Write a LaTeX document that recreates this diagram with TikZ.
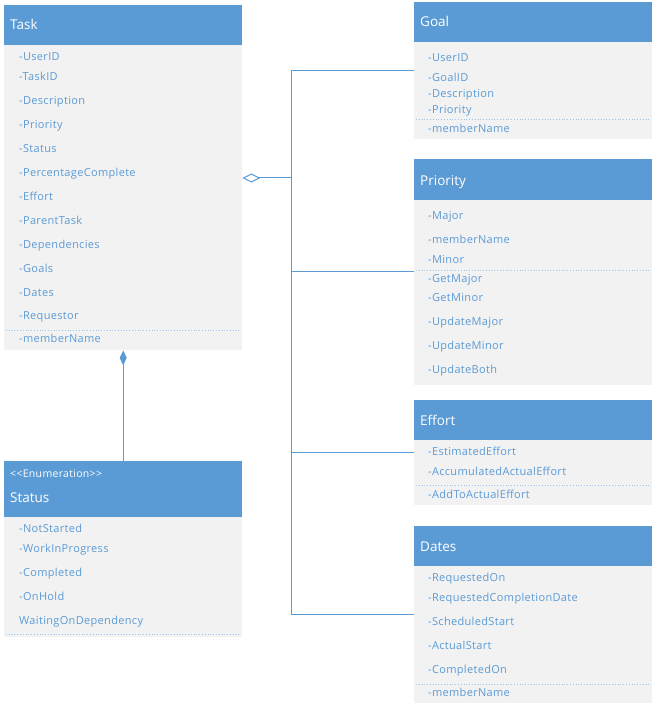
\documentclass[tikz,border=0pt]{standalone}
\usepackage{fontspec}
\setmainfont{Open Sans}
\newfontfamily\memberfont[LetterSpace=3]{Open Sans}
\usetikzlibrary{arrows.meta}
\definecolor{umlblue}{HTML}{5B9BD5}
\definecolor{umlbody}{HTML}{F2F2F2}
\definecolor{umlsep}{HTML}{9DC3E6}

\tikzset{
  head/.style={fill=umlblue, draw=none, anchor=north west, minimum width=238pt, inner sep=0pt},
  body/.style={fill=umlbody, draw=none, anchor=north west, minimum width=238pt, inner sep=0pt},
  title/.style={anchor=west, text=white, font=\fontsize{13.5}{16}\selectfont, inner sep=0pt,
                text height=10pt, text depth=3pt, yshift=-1.5pt},
  stereo/.style={anchor=west, text=white, font=\memberfont\fontsize{10.5}{12}\selectfont, inner sep=0pt,
                text height=7.5pt, text depth=2.5pt, yshift=-1pt},
  attr/.style={anchor=west, text=umlblue, font=\memberfont\fontsize{11}{13}\selectfont, inner sep=0pt,
               text height=8pt, text depth=2.5pt, yshift=-1pt},
  sep/.style={draw=umlsep, dotted, line width=0.8pt},
  conn/.style={draw=umlblue, line width=1pt},
}

\begin{document}
\begin{tikzpicture}[x=1pt, y=-1pt]
\useasboundingbox (0,0) rectangle (654,708);

% ---------- Task ----------
\node[head, minimum height=40pt] (taskH) at (4,5) {};
\node[body, minimum height=305pt] (taskB) at (4,45) {};
\node[title] (taskT) at (10,25) {Task};
\foreach \y/\t [count=\i] in {57/-UserID, 77/-TaskID, 101/-Description, 125/-Priority,
    149/-Status, 173/-PercentageComplete, 197/-Effort, 221/-ParentTask,
    245/-Dependencies, 269/-Goals, 293/-Dates, 316/-Requestor, 339/-memberName}
  \node[attr, name=taskA\i] at (19,\y) {\t};
\draw[sep] (6,330) -- (240,330);

% ---------- Status ----------
\node[head, minimum height=56pt] (statusH) at (4,461) {};
\node[body, minimum height=120pt] (statusB) at (4,517) {};
\node[stereo] (statusS) at (10,474) {<{}<Enumeration>{}>};
\node[title] (statusT) at (10,497) {Status};
\foreach \y/\t [count=\i] in {529/-NotStarted, 549/-WorkInProgress, 573/-Completed,
    597/-OnHold, 621/WaitingOnDependency}
  \node[attr, name=statusA\i] at (19,\y) {\t};
\draw[sep] (6,634) -- (240,634);

% ---------- Goal ----------
\node[head, minimum height=40pt] (goalH) at (414,2) {};
\node[body, minimum height=97pt] (goalB) at (414,42) {};
\node[title] (goalT) at (420,22) {Goal};
\foreach \y/\t [count=\i] in {58/-UserID, 78/-GoalID, 94/-Description, 110/-Priority,
    129/-memberName}
  \node[attr, name=goalA\i] at (428,\y) {\t};
\draw[sep] (416,119) -- (650,119);

% ---------- Priority ----------
\node[head, minimum height=41pt] (priH) at (414,159) {};
\node[body, minimum height=185pt] (priB) at (414,200) {};
\node[title] (priT) at (420,181) {Priority};
\foreach \y/\t [count=\i] in {216/-Major, 240/-memberName, 260/-Minor, 279/-GetMajor,
    298/-GetMinor, 322/-UpdateMajor, 346/-UpdateMinor, 370/-UpdateBoth}
  \node[attr, name=priA\i] at (428,\y) {\t};
\draw[sep] (416,270) -- (650,270);

% ---------- Effort ----------
\node[head, minimum height=40pt] (effH) at (414,400) {};
\node[body, minimum height=65pt] (effB) at (414,440) {};
\node[title] (effT) at (420,420) {Effort};
\foreach \y/\t [count=\i] in {452/-EstimatedEffort, 472/-AccumulatedActualEffort,
    495/-AddToActualEffort}
  \node[attr, name=effA\i] at (428,\y) {\t};
\draw[sep] (416,485) -- (650,485);

% ---------- Dates ----------
\node[head, minimum height=40pt] (datesH) at (414,526) {};
\node[body, minimum height=137pt] (datesB) at (414,566) {};
\node[title] (datesT) at (420,546) {Dates};
\foreach \y/\t [count=\i] in {578/-RequestedOn, 598/-RequestedCompletionDate,
    622/-ScheduledStart, 646/-ActualStart, 670/-CompletedOn, 693/-memberName}
  \node[attr, name=datesA\i] at (428,\y) {\t};
\draw[sep] (416,684) -- (650,684);

% ---------- Composition: Task owns Status ----------
\draw[conn, {Diamond[length=15pt, width=7pt]}-] (taskB.south) -- (statusH.north);

% ---------- Aggregation: Task to its parts ----------
\coordinate (aggr) at (taskB.east |- 0,178);
\coordinate (trunkMid) at (291,178);
\coordinate (goalIn) at (goalB.west |- 0,71);
\coordinate (priIn) at (priB.west |- 0,271);
\coordinate (effIn) at (effB.west |- 0,452);
\coordinate (datesIn) at (datesB.west |- 0,614);
\draw[conn, {Diamond[open, length=18pt, width=9pt]}-] (aggr) -- (trunkMid);
\draw[conn] (goalIn) -- (trunkMid |- goalIn) -- (trunkMid |- datesIn) -- (datesIn);
\draw[conn] (trunkMid |- priIn) -- (priIn);
\draw[conn] (trunkMid |- effIn) -- (effIn);
\end{tikzpicture}
\end{document}
